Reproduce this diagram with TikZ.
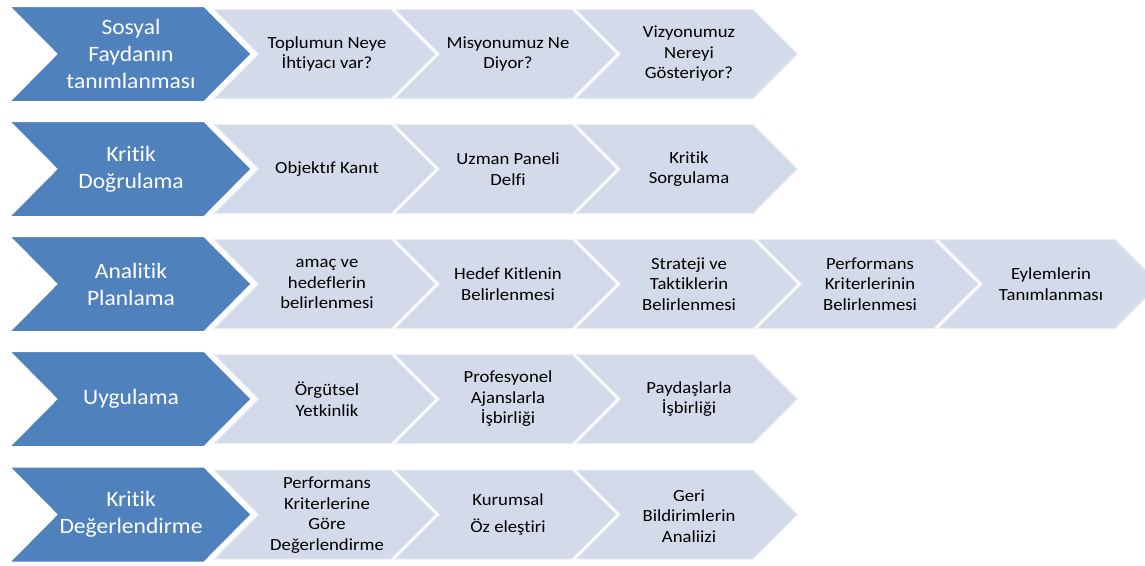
\documentclass[tikz,border=0pt]{standalone}
\usepackage{fontspec}
\setmainfont{Carlito}[Ligatures=NoCommon]
\newfontfamily\bluefont{Carlito}[Ligatures=NoCommon,FakeStretch=1.07]
\newfontfamily\grayfont{Carlito}[Ligatures=NoCommon,FakeStretch=1.1]
\definecolor{chevblue}{HTML}{4F81BD}
\definecolor{chevgray}{HTML}{D3DAE9}
\tikzset{bluechev/.style={fill=chevblue,draw=white,line width=1pt}}
\tikzset{graychev/.style={fill=chevgray,draw=white!55!chevgray,line width=1pt}}
\tikzset{bluetext/.style={align=center,inner sep=0pt,text=white,font=\bluefont\fontsize{22}{27}\selectfont}}
\tikzset{graytext/.style={align=center,inner sep=0pt,text=black,font=\grayfont\fontsize{17}{20.5}\selectfont}}

\begin{document}
\begin{tikzpicture}[x=1pt,y=-1pt]
\useasboundingbox (0,0) rectangle (1145,565);
\clip (0,0) rectangle (1145,565);

% row 1
\draw[bluechev] (10,6.5) -- ++(194,0) -- ++(47,47.5) -- ++(-47,47.5) -- ++(-194,0) -- ++(47,-47.5) -- cycle;
\node[bluetext] (r1) at (131,54) {Sosyal\\Faydanın\\tanımlanması};
\draw[graychev] (214,9.5) -- ++(177,0) -- ++(44.5,44.5) -- ++(-44.5,44.5) -- ++(-177,0) -- ++(44.5,-44.5) -- cycle;
\node[graytext] (r1a) at (327,54) {Toplumun Neye\\İhtiyacı var?};
\draw[graychev] (395,9.5) -- ++(177,0) -- ++(44.5,44.5) -- ++(-44.5,44.5) -- ++(-177,0) -- ++(44.5,-44.5) -- cycle;
\node[graytext] (r1b) at (508,54) {Misyonumuz Ne\\Diyor?};
\draw[graychev] (576,9.5) -- ++(177,0) -- ++(44.5,44.5) -- ++(-44.5,44.5) -- ++(-177,0) -- ++(44.5,-44.5) -- cycle;
\node[graytext] (r1c) at (689,54) {Vizyonumuz\\Nereyi\\Gösteriyor?};

% row 2
\draw[bluechev] (10,121.5) -- ++(194,0) -- ++(47,47.5) -- ++(-47,47.5) -- ++(-194,0) -- ++(47,-47.5) -- cycle;
\node[bluetext] (r2) at (131,169) {Kritik\\Doğrulama};
\draw[graychev] (214,124.5) -- ++(177,0) -- ++(44.5,44.5) -- ++(-44.5,44.5) -- ++(-177,0) -- ++(44.5,-44.5) -- cycle;
\node[graytext] (r2a) at (327,169) {Objektıf Kanıt};
\draw[graychev] (395,124.5) -- ++(177,0) -- ++(44.5,44.5) -- ++(-44.5,44.5) -- ++(-177,0) -- ++(44.5,-44.5) -- cycle;
\node[graytext] (r2b) at (508,169) {Uzman Paneli\\Delfi};
\draw[graychev] (576,124.5) -- ++(177,0) -- ++(44.5,44.5) -- ++(-44.5,44.5) -- ++(-177,0) -- ++(44.5,-44.5) -- cycle;
\node[graytext] (r2c) at (689,169) {Kritik\\Sorgulama};

% row 3
\draw[bluechev] (10,236.5) -- ++(194,0) -- ++(47,47.5) -- ++(-47,47.5) -- ++(-194,0) -- ++(47,-47.5) -- cycle;
\node[bluetext] (r3) at (131,284) {Analitik\\Planlama};
\draw[graychev] (214,239.5) -- ++(177,0) -- ++(44.5,44.5) -- ++(-44.5,44.5) -- ++(-177,0) -- ++(44.5,-44.5) -- cycle;
\node[graytext] (r3a) at (327,284) {amaç ve\\hedeflerin\\belirlenmesi};
\draw[graychev] (395,239.5) -- ++(177,0) -- ++(44.5,44.5) -- ++(-44.5,44.5) -- ++(-177,0) -- ++(44.5,-44.5) -- cycle;
\node[graytext] (r3b) at (508,284) {Hedef Kitlenin\\Belirlenmesi};
\draw[graychev] (576,239.5) -- ++(177,0) -- ++(44.5,44.5) -- ++(-44.5,44.5) -- ++(-177,0) -- ++(44.5,-44.5) -- cycle;
\node[graytext] (r3c) at (689,284) {Strateji ve\\Taktiklerin\\Belirlenmesi};
\draw[graychev] (757,239.5) -- ++(177,0) -- ++(44.5,44.5) -- ++(-44.5,44.5) -- ++(-177,0) -- ++(44.5,-44.5) -- cycle;
\node[graytext] (r3d) at (870,284) {Performans\\Kriterlerinin\\Belirlenmesi};
\draw[graychev] (938,239.5) -- ++(177,0) -- ++(44.5,44.5) -- ++(-44.5,44.5) -- ++(-177,0) -- ++(44.5,-44.5) -- cycle;
\node[graytext] (r3e) at (1051,284) {Eylemlerin\\Tanımlanması};

% row 4
\draw[bluechev] (10,351.5) -- ++(194,0) -- ++(47,47.5) -- ++(-47,47.5) -- ++(-194,0) -- ++(47,-47.5) -- cycle;
\node[bluetext] (r4) at (131,399) {Uygulama};
\draw[graychev] (214,354.5) -- ++(177,0) -- ++(44.5,44.5) -- ++(-44.5,44.5) -- ++(-177,0) -- ++(44.5,-44.5) -- cycle;
\node[graytext] (r4a) at (327,399) {Örgütsel\\Yetkinlik};
\draw[graychev] (395,354.5) -- ++(177,0) -- ++(44.5,44.5) -- ++(-44.5,44.5) -- ++(-177,0) -- ++(44.5,-44.5) -- cycle;
\node[graytext] (r4b) at (508,399) {Profesyonel\\Ajanslarla\\İşbirliği};
\draw[graychev] (576,354.5) -- ++(177,0) -- ++(44.5,44.5) -- ++(-44.5,44.5) -- ++(-177,0) -- ++(44.5,-44.5) -- cycle;
\node[graytext] (r4c) at (689,399) {Paydaşlarla\\İşbirliği};

% row 5
\draw[bluechev] (10,467) -- ++(194,0) -- ++(47,47.5) -- ++(-47,47.5) -- ++(-194,0) -- ++(47,-47.5) -- cycle;
\node[bluetext] (r5) at (131,514.5) {Kritik\\Değerlendirme};
\draw[graychev] (214,470) -- ++(177,0) -- ++(44.5,44.5) -- ++(-44.5,44.5) -- ++(-177,0) -- ++(44.5,-44.5) -- cycle;
\node[graytext] (r5a) at (327,515) {Performans\\Kriterlerine\\Göre\\Değerlendirme};
\draw[graychev] (395,470) -- ++(177,0) -- ++(44.5,44.5) -- ++(-44.5,44.5) -- ++(-177,0) -- ++(44.5,-44.5) -- cycle;
\node[graytext] (r5b) at (508,514.5) {Kurumsal\\[7pt]Öz eleştiri};
\draw[graychev] (576,470) -- ++(177,0) -- ++(44.5,44.5) -- ++(-44.5,44.5) -- ++(-177,0) -- ++(44.5,-44.5) -- cycle;
\node[graytext] (r5c) at (689,516) {Geri\\Bildirimlerin\\Analiizi};

\end{tikzpicture}
\end{document}
